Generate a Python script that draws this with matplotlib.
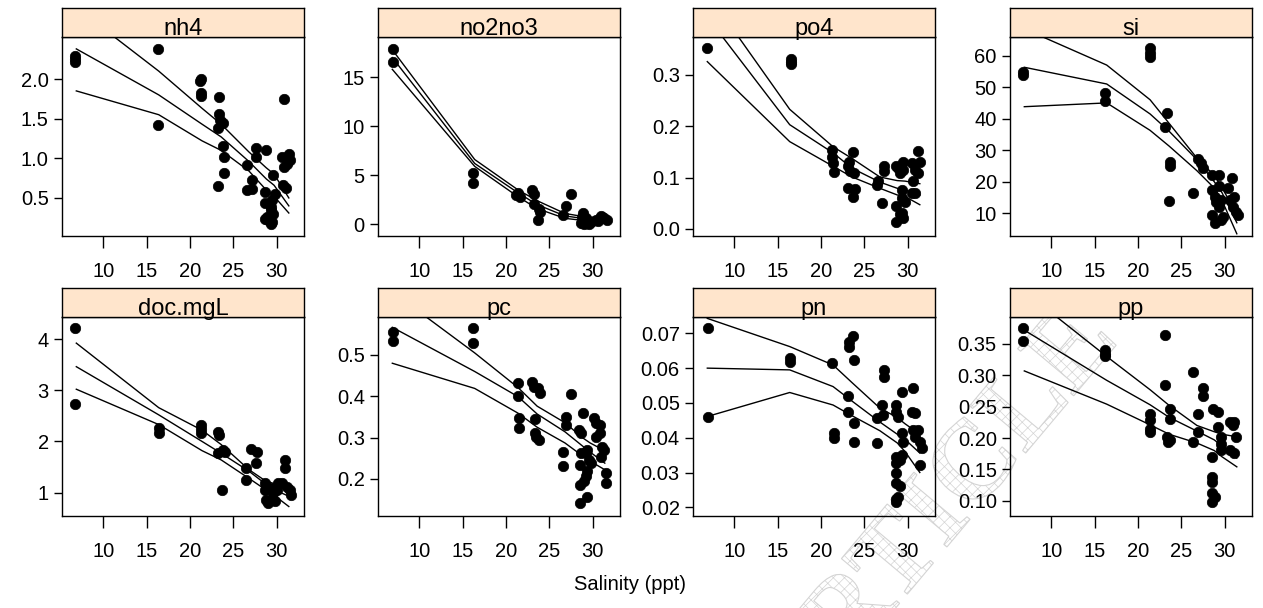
import matplotlib
matplotlib.use("Agg")
import matplotlib.pyplot as plt
from matplotlib.textpath import TextPath
from matplotlib.patches import PathPatch
from matplotlib.font_manager import FontProperties
import matplotlib.transforms as mtransforms

plt.rcParams['font.family'] = ['Liberation Sans', 'DejaVu Sans']
plt.rcParams['hatch.linewidth'] = 0.5

# panel names (strip labels)
panels = ["nh4", "no2no3", "po4", "si", "doc.mgL", "pc", "pn", "pp"]

# x nodes of the fitted curve and confidence band (salinity)
fit_x = [6.9, 16.4, 21.4, 23.6, 26.8, 28.8, 29.7, 31.4]

# ---- nh4
nh4_x = [6.7, 6.7, 6.7, 16.3, 16.3, 21.2, 21.3, 21.3, 21.3, 23.3, 23.3, 23.5, 23.8, 23.2,
         23.8, 23.9, 23.9, 23.2, 26.6, 27.6, 27.6, 27.1, 26.6, 27.1, 28.8, 28.7, 28.7, 28.7,
         29.0, 29.4, 29.4, 29.6, 29.5, 29.8, 29.6, 30.8, 30.6, 30.8, 31.2, 30.7, 31.1, 31.4,
         31.5, 28.9, 29.3, 29.5]
nh4_y = [2.29, 2.25, 2.21, 2.38, 1.42, 1.97, 2.00, 1.82, 1.79, 1.77, 1.56, 1.48, 1.45, 1.38,
         1.16, 1.02, 0.81, 0.65, 0.91, 1.13, 1.02, 0.73, 0.60, 0.61, 1.10, 0.58, 0.43, 0.24,
         0.22, 0.17, 0.39, 0.30, 0.47, 0.55, 0.79, 1.75, 1.02, 0.89, 0.93, 0.66, 0.62, 1.06,
         0.98, 0.26, 0.35, 0.20]
nh4_fit = [2.38, 1.80, 1.43, 1.27, 0.96, 0.74, 0.66, 0.40]
nh4_hi = [2.90, 2.10, 1.63, 1.43, 1.08, 0.88, 0.80, 0.50]
nh4_lo = [1.85, 1.55, 1.22, 1.10, 0.84, 0.60, 0.52, 0.31]

# ---- no2no3
no2no3_x = [7.0, 7.0, 16.2, 16.2, 21.4, 21.6, 21.2, 23.0, 23.2, 23.2, 23.8, 23.9, 23.7,
            26.55, 26.9, 27.5, 28.85, 28.7, 28.85, 29.0, 29.4, 29.6, 29.8, 29.2, 28.8,
            30.4, 30.8, 31.1, 31.3, 31.7, 31.0, 30.6]
no2no3_y = [17.9, 16.6, 5.2, 4.2, 3.2, 2.8, 3.0, 3.5, 3.1, 2.1, 1.6, 1.25, 0.4,
            0.9, 1.9, 3.05, 1.1, 0.1, 0.4, 0.0, 0.15, 0.0, 0.25, 0.6, 0.75,
            0.4, 0.6, 0.75, 0.6, 0.4, 0.8, 0.35]
no2no3_fit = [17.0, 6.2, 3.2, 2.0, 0.85, 0.6, 0.5, 0.65]
no2no3_hi = [17.8, 6.6, 3.5, 2.4, 1.1, 0.8, 0.7, 0.8]
no2no3_lo = [15.8, 5.9, 2.8, 1.6, 0.6, 0.4, 0.3, 0.5]

# ---- po4
po4_x = [6.9, 16.5, 16.5, 16.5, 21.3, 21.3, 21.4, 21.5, 23.2, 23.1, 23.3, 23.8, 23.7, 23.1,
         23.9, 23.7, 26.5, 26.6, 27.0, 27.3, 27.3, 28.6, 28.9, 29.5, 29.5, 29.1, 28.6, 28.7,
         29.1, 29.5, 29.4, 29.4, 29.3, 29.7, 30.5, 30.8, 31.2, 31.4, 31.2, 30.6, 30.8, 30.5]
po4_y = [0.352, 0.332, 0.326, 0.321, 0.154, 0.141, 0.128, 0.111, 0.131, 0.122, 0.112, 0.109,
         0.150, 0.080, 0.077, 0.062, 0.086, 0.093, 0.051, 0.122, 0.112, 0.122, 0.119, 0.130,
         0.115, 0.109, 0.013, 0.044, 0.028, 0.021, 0.031, 0.076, 0.060, 0.052, 0.128, 0.115,
         0.151, 0.130, 0.109, 0.093, 0.070, 0.070]
po4_fit = [0.413, 0.203, 0.148, 0.118, 0.091, 0.079, 0.076, 0.066]
po4_hi = [0.460, 0.233, 0.160, 0.137, 0.101, 0.094, 0.093, 0.088]
po4_lo = [0.326, 0.170, 0.122, 0.101, 0.079, 0.066, 0.063, 0.047]

# ---- si
si_x = [6.8, 6.8, 16.2, 16.2, 21.4, 21.4, 21.4, 23.3, 23.1, 23.7, 23.7, 23.6, 26.4, 26.9,
        27.3, 27.5, 28.5, 29.4, 28.5, 28.9, 29.0, 29.4, 28.5, 28.9, 29.6, 29.8, 29.4, 29.6,
        30.8, 30.6, 31.1, 31.0, 31.3, 31.5, 30.4]
si_y = [54.9, 53.9, 48.1, 45.7, 62.3, 60.7, 59.5, 41.9, 37.3, 26.4, 25.1, 14.0, 16.3, 27.1,
        25.8, 24.3, 22.2, 22.2, 17.4, 15.3, 13.7, 18.5, 9.5, 7.0, 7.9, 8.9, 12.1, 14.2,
        21.1, 14.2, 15.3, 12.1, 10.5, 9.5, 17.9]
si_fit = [56.3, 51.0, 41.5, 36.0, 27.0, 20.0, 16.5, 7.0]
si_hi = [68.5, 57.0, 46.0, 38.5, 27.5, 22.0, 18.0, 10.0]
si_lo = [43.8, 45.0, 36.3, 31.3, 23.5, 18.0, 14.0, 3.5]

# ---- doc.mgL
doc_x = [6.8, 6.8, 16.4, 16.4, 21.3, 21.3, 21.3, 23.2, 23.4, 23.2, 23.8, 24.0, 23.7, 26.5,
         26.5, 27.0, 27.7, 27.6, 28.6, 28.6, 28.8, 29.0, 29.4, 29.8, 29.6, 29.4, 30.0, 30.2,
         31.0, 31.0, 30.6, 31.2, 31.5, 31.6]
doc_y = [4.21, 2.74, 2.26, 2.17, 2.32, 2.24, 2.16, 2.19, 2.13, 1.77, 1.83, 1.80, 1.05, 1.48,
         1.25, 1.85, 1.80, 1.57, 1.18, 1.05, 0.86, 0.79, 0.86, 0.83, 0.99, 1.09, 1.05, 1.18,
         1.64, 1.48, 1.18, 1.12, 1.05, 0.96]
doc_fit = [3.46, 2.52, 2.00, 1.77, 1.42, 1.16, 1.06, 0.93]
doc_hi = [3.92, 2.66, 2.22, 1.94, 1.45, 1.22, 1.18, 1.10]
doc_lo = [3.02, 2.33, 1.82, 1.64, 1.28, 1.05, 0.95, 0.73]

# ---- pc
pc_x = [7.0, 7.0, 16.2, 16.2, 21.4, 21.4, 21.5, 21.5, 23.0, 23.2, 23.7, 23.9, 23.3, 23.3,
        23.5, 23.8, 26.6, 26.6, 26.9, 26.9, 27.5, 28.4, 28.7, 28.9, 28.5, 28.7, 29.2, 29.4,
        29.8, 29.2, 29.6, 28.5, 29.4, 28.5, 29.0, 29.4, 30.2, 30.4, 30.8, 30.4, 30.8, 31.1,
        31.3, 31.0, 31.5, 31.5]
pc_y = [0.556, 0.535, 0.565, 0.528, 0.431, 0.401, 0.348, 0.323, 0.435, 0.423, 0.419, 0.407,
        0.344, 0.312, 0.302, 0.294, 0.266, 0.230, 0.351, 0.331, 0.406, 0.319, 0.310, 0.359,
        0.234, 0.262, 0.206, 0.218, 0.238, 0.262, 0.246, 0.141, 0.157, 0.185, 0.194, 0.270,
        0.347, 0.335, 0.331, 0.302, 0.310, 0.278, 0.270, 0.254, 0.214, 0.190]
pc_fit = [0.567, 0.460, 0.399, 0.357, 0.314, 0.280, 0.265, 0.238]
pc_hi = [0.653, 0.505, 0.421, 0.376, 0.336, 0.300, 0.287, 0.268]
pc_lo = [0.480, 0.419, 0.359, 0.325, 0.287, 0.256, 0.243, 0.222]

# ---- pn
pn_x = [7.0, 7.0, 16.4, 16.4, 21.3, 21.5, 21.5, 23.2, 23.2, 23.7, 23.8, 23.1, 23.1, 23.8,
        23.8, 26.5, 26.5, 27.1, 27.0, 27.3, 27.3, 28.6, 28.6, 28.9, 28.6, 28.7, 29.1, 29.3,
        28.6, 28.7, 29.1, 28.6, 28.7, 28.9, 29.3, 29.5, 29.3, 30.6, 30.5, 30.8, 30.6, 31.2,
        30.8, 31.4, 31.6, 31.4]
pn_y = [0.0714, 0.0461, 0.0628, 0.0619, 0.0616, 0.0413, 0.0398, 0.0676, 0.0662, 0.0692,
        0.0623, 0.0520, 0.0475, 0.0443, 0.0389, 0.0384, 0.0456, 0.0465, 0.0494, 0.0595,
        0.0574, 0.0494, 0.0475, 0.0461, 0.0346, 0.0326, 0.0336, 0.0350, 0.0300, 0.0269,
        0.0261, 0.0223, 0.0216, 0.0231, 0.0413, 0.0389, 0.0532, 0.0544, 0.0475, 0.0470,
        0.0422, 0.0422, 0.0403, 0.0389, 0.0370, 0.0322]
pn_fit = [0.0600, 0.0595, 0.0547, 0.0505, 0.0445, 0.0410, 0.0395, 0.0356]
pn_hi = [0.0743, 0.0662, 0.0609, 0.0558, 0.0485, 0.0458, 0.0440, 0.0410]
pn_lo = [0.0461, 0.0530, 0.0494, 0.0463, 0.0420, 0.0385, 0.0360, 0.0300]

# ---- pp
pp_x = [6.8, 6.8, 16.2, 16.2, 16.2, 21.4, 21.4, 21.4, 21.4, 23.1, 23.1, 23.7, 23.7, 23.3,
        23.7, 23.5, 26.4, 26.9, 26.9, 26.4, 27.5, 27.5, 28.7, 29.2, 29.2, 29.6, 29.6, 29.6,
        28.5, 28.5, 28.5, 28.5, 28.9, 28.5, 30.6, 31.0, 31.1, 31.3, 30.6, 31.1]
pp_y = [0.375, 0.355, 0.340, 0.334, 0.330, 0.239, 0.229, 0.215, 0.210, 0.365, 0.285, 0.247,
        0.231, 0.202, 0.197, 0.194, 0.306, 0.239, 0.210, 0.193, 0.279, 0.267, 0.247, 0.242,
        0.218, 0.202, 0.191, 0.181, 0.170, 0.138, 0.130, 0.112, 0.106, 0.098, 0.226, 0.221,
        0.226, 0.202, 0.181, 0.176]
pp_fit = [0.372, 0.292, 0.253, 0.233, 0.211, 0.197, 0.187, 0.168]
pp_hi = [0.434, 0.330, 0.277, 0.252, 0.220, 0.210, 0.206, 0.202]
pp_lo = [0.307, 0.254, 0.221, 0.206, 0.192, 0.180, 0.170, 0.154]

x_ticks = [10, 15, 20, 25, 30]
y_ticks = [
    ([0.5, 1.0, 1.5, 2.0], ["0.5", "1.0", "1.5", "2.0"]),
    ([0, 5, 10, 15], ["0", "5", "10", "15"]),
    ([0.0, 0.1, 0.2, 0.3], ["0.0", "0.1", "0.2", "0.3"]),
    ([10, 20, 30, 40, 50, 60], ["10", "20", "30", "40", "50", "60"]),
    ([1, 2, 3, 4], ["1", "2", "3", "4"]),
    ([0.2, 0.3, 0.4, 0.5], ["0.2", "0.3", "0.4", "0.5"]),
    ([0.02, 0.03, 0.04, 0.05, 0.06, 0.07], ["0.02", "0.03", "0.04", "0.05", "0.06", "0.07"]),
    ([0.10, 0.15, 0.20, 0.25, 0.30, 0.35], ["0.10", "0.15", "0.20", "0.25", "0.30", "0.35"]),
]
y_lims = [(0.02, 2.53), (-1.2, 19.1), (-0.014, 0.374), (2.8, 65.9),
          (0.545, 4.43), (0.11, 0.592), (0.0175, 0.0747), (0.0756, 0.393)]

pts = [(nh4_x, nh4_y), (no2no3_x, no2no3_y), (po4_x, po4_y), (si_x, si_y),
       (doc_x, doc_y), (pc_x, pc_y), (pn_x, pn_y), (pp_x, pp_y)]
fits = [(nh4_fit, nh4_hi, nh4_lo), (no2no3_fit, no2no3_hi, no2no3_lo),
        (po4_fit, po4_hi, po4_lo), (si_fit, si_hi, si_lo),
        (doc_fit, doc_hi, doc_lo), (pc_fit, pc_hi, pc_lo),
        (pn_fit, pn_hi, pn_lo), (pp_fit, pp_hi, pp_lo)]

W, H = 1263, 608
fig = plt.figure(figsize=(W / 100, H / 100), dpi=100)

col_left = [62, 378, 693, 1010]
row_top = [37, 317]
pw, ph, sh = 242, 199, 29

for i, name in enumerate(panels):
    r, c = divmod(i, 4)
    L = col_left[c]
    T = row_top[r]
    ax = fig.add_axes([L / W, 1 - (T + ph) / H, pw / W, ph / H])
    ax.set_facecolor('none')
    px, py = pts[i]
    ax.plot(px, py, 'o', color='black', ms=7.5, mec='black', mew=0.5, zorder=3)
    for line in fits[i]:
        ax.plot(fit_x, line, color='black', lw=1.0, zorder=2)
    ax.set_xlim(5.25, 33.15)
    ax.set_ylim(*y_lims[i])
    ax.set_xticks(x_ticks)
    ax.set_xticklabels([str(t) for t in x_ticks])
    ax.set_yticks(y_ticks[i][0])
    ax.set_yticklabels(y_ticks[i][1])
    ax.tick_params(axis='x', length=8.6, width=1, pad=10, labelsize=14.5, direction='out')
    ax.tick_params(axis='y', length=6, width=1, pad=3.5, labelsize=14.5, direction='out')
    for s in ax.spines.values():
        s.set_linewidth(1)

    sax = fig.add_axes([L / W, 1 - T / H, pw / W, sh / H])
    sax.set_facecolor('#FFE5CC')
    sax.set_xticks([])
    sax.set_yticks([])
    for s in sax.spines.values():
        s.set_linewidth(1)
    sax.text(0.5, 0.08, name, ha='center', va='baseline', fontsize=17,
             transform=sax.transAxes)

fig.text(630 / W, 1 - 585 / H, "Salinity (ppt)", ha='center', va='center', fontsize=14.5)

# faint "ARTICLE" watermark
tp = TextPath((0, 0), "ARTICLE", size=112,
              prop=FontProperties(family='Liberation Serif', weight='bold'))
wm_tr = mtransforms.Affine2D().rotate_deg(50).translate(795, -120)
wm = PathPatch(tp, transform=wm_tr, facecolor='none', edgecolor='#d4d4d4',
               hatch='xxx', lw=0.8, zorder=-1)
fig.add_artist(wm)

fig.savefig("out.png", dpi=100)
